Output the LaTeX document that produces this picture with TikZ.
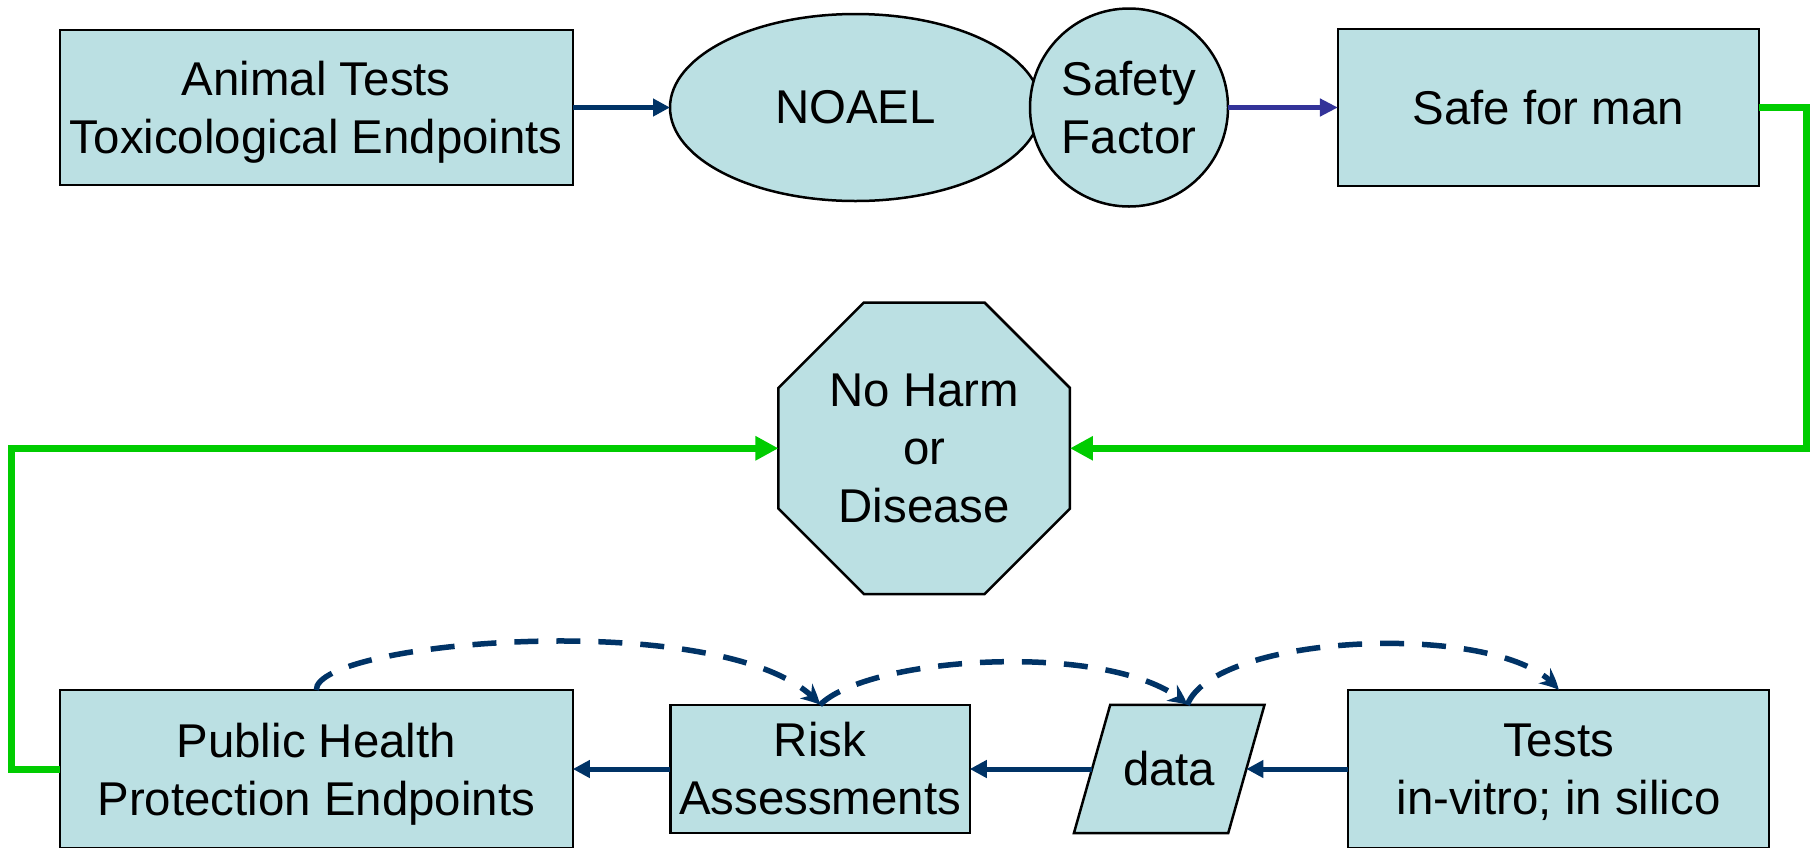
\documentclass[tikz,border=0pt]{standalone}
\usepackage{fontspec}
\setmainfont{Liberation Sans}
\usetikzlibrary{arrows.meta,shapes.geometric,bending,backgrounds}
\definecolor{boxfill}{RGB}{187,224,227}
\definecolor{navy}{RGB}{0,51,102}
\definecolor{purp}{RGB}{51,51,153}
\definecolor{grn}{RGB}{0,204,0}
\begin{document}
\begin{tikzpicture}[x=1pt,y=-1pt,
  shp/.style={draw=black, line width=2.5pt, fill=boxfill, inner sep=0pt, outer sep=0pt,
    align=center, font=\fontsize{47.4}{58}\selectfont},
  box/.style={shp, rectangle},
  shpline/.style={draw=black, line width=2.5pt, fill=boxfill, line join=miter},
  nav/.style={draw=navy, line width=5pt, -{Triangle[length=17pt,width=17pt]}},
  purpline/.style={draw=purp, line width=5pt, -{Triangle[length=18pt,width=17pt]}},
  grnline/.style={draw=grn, line width=7pt, -{Triangle[length=23pt,width=23pt]}},
  dsh/.style={draw=navy, line width=5.5pt, dash pattern=on 24pt off 18pt,
    -{Stealth[length=19pt,width=19pt,inset=6pt,bend]}}]
\useasboundingbox (0,0) rectangle (1820,847);

% top row
\node[box, minimum width=513pt, minimum height=155pt] (animal) at (316.3,107.5)
  {Animal Tests\\\smash{Toxicological Endpoints}};
\node[shp, ellipse, minimum width=371pt, minimum height=187pt] (noael) at (855.5,107.5) {NOAEL};
\node[shp, circle, minimum size=198pt] (safety) at (1129,107.5) {Safety\\Factor};
\node[box, minimum width=421pt, minimum height=157pt] (safe) at (1548.4,107.5) {Safe for man};

% middle
\node[shp, regular polygon, regular polygon sides=8, minimum size=315.5pt] (harm) at (924.2,448.3)
  {No Harm\\or\\Disease};

% bottom row
\node[box, minimum width=513pt, minimum height=158pt] (public) at (316.3,769)
  {Public Health\\\smash{Protection Endpoints}};
\node[box, minimum width=299.5pt, minimum height=128.3pt] (risk) at (820,769)
  {Risk\\Assessments};
\node[shp, rectangle, draw=none, fill=none, minimum width=154.3pt, minimum height=128.3pt] (data) at (1169.2,769) {data};
\begin{pgfonlayer}{background}
  \path[shpline] ([xshift=18.15pt]data.north west) -- ([xshift=18.15pt]data.north east)
    -- ([xshift=-18.15pt]data.south east) -- ([xshift=-18.15pt]data.south west) -- cycle;
\end{pgfonlayer}
\node[box, minimum width=421pt, minimum height=158pt] (tests) at (1558.5,769)
  {Tests\\\smash{in-vitro; in silico}};

% connectors
\draw[nav] (animal) -- (noael);
\draw[purpline] (safety) -- (safe);
\draw[grnline] (safe.east) -- ++(47.7,0) |- (harm.east);
\draw[grnline] (public.west) -- ++(-48.4,0) |- (harm.west);
\draw[nav] (risk) -- (public);
\draw[nav] (data.west) -- (risk);
\draw[nav] (tests) -- (data.east);

\draw[dsh] (public.north) .. controls (315,640) and (740,605) .. (risk.north);
\draw[dsh] (risk.north) .. controls (870,655) and (1120,640) .. ([xshift=18.15pt]data.north);
\draw[dsh] ([xshift=18.15pt]data.north) .. controls (1215,632) and (1510,620) .. (tests.north);
\end{tikzpicture}
\end{document}
